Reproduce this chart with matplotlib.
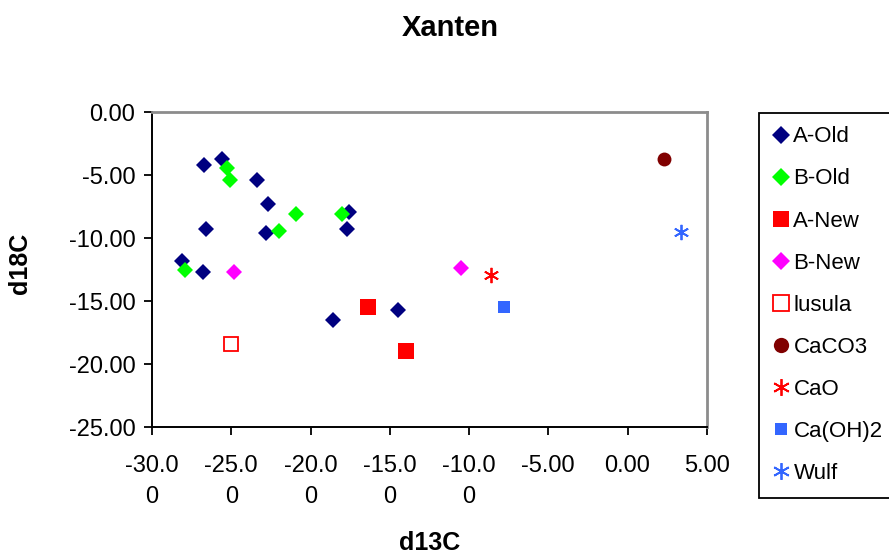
import numpy as np
import matplotlib
matplotlib.use("Agg")
import matplotlib.pyplot as plt

plt.rcParams['font.family'] = ['Liberation Sans', 'DejaVu Sans']

# Data (d13C, d18C)
a_old_x = [-26.7, -25.6, -23.4, -22.7, -26.6, -22.8, -17.6, -17.7, -28.1, -26.8, -18.6, -14.5]
a_old_y = [-4.2, -3.7, -5.4, -7.3, -9.3, -9.6, -7.9, -9.3, -11.8, -12.7, -16.5, -15.7]
b_old_x = [-25.3, -25.1, -20.9, -22.0, -18.0, -27.9]
b_old_y = [-4.4, -5.4, -8.1, -9.4, -8.1, -12.5]
a_new_x = [-16.4, -14.0]
a_new_y = [-15.5, -19.0]
b_new_x = [-24.8, -10.5]
b_new_y = [-12.7, -12.4]
lusula_x = [-25.0]
lusula_y = [-18.4]
caco3_x = [2.3]
caco3_y = [-3.7]
cao_x = [-8.6]
cao_y = [-12.9]
caoh2_x = [-7.8]
caoh2_y = [-15.5]
wulf_x = [3.4]
wulf_y = [-9.5]

xticks = [-30, -25, -20, -15, -10, -5, 0, 5]
xticklabels = ['-30.0\n0', '-25.0\n0', '-20.0\n0', '-15.0\n0', '-10.0\n0', '-5.00', '0.00', '5.00']
yticks = [0, -5, -10, -15, -20, -25]

fig = plt.figure(figsize=(8.89, 5.56), dpi=100)
ax = fig.add_axes([0.171, 0.232, 0.624, 0.566])

star6 = (6, 2, 0)
ax.plot(a_old_x, a_old_y, 'D', color='#000080', ms=8, mew=0, label='A-Old')
ax.plot(b_old_x, b_old_y, 'D', color='#00FF00', ms=8, mew=0, label='B-Old')
ax.plot(a_new_x, a_new_y, 's', color='#FF0000', ms=11, mew=0, label='A-New')
ax.plot(b_new_x, b_new_y, 'D', color='#FF00FF', ms=8, mew=0, label='B-New')
ax.plot(lusula_x, lusula_y, 's', mfc='white', mec='#FF0000', ms=10.5, mew=1.3, label='lusula')
ax.plot(caco3_x, caco3_y, 'o', color='#800000', ms=10, mew=0, label='CaCO3')
ax.plot(cao_x, cao_y, marker=star6, ls='none', color='#FF0000', ms=11, mew=1.3, label='CaO')
ax.plot(caoh2_x, caoh2_y, 's', color='#3366FF', ms=8.5, mew=0, label='Ca(OH)2')
ax.plot(wulf_x, wulf_y, marker=star6, ls='none', color='#3366FF', ms=11, mew=1.3, label='Wulf')

ax.set_xlim(-30, 5)
ax.set_ylim(-25, 0)
ax.set_xticks(xticks)
ax.set_xticklabels(xticklabels, fontsize=17, linespacing=1.55)
ax.set_yticks(yticks)
ax.set_yticklabels(['%.2f' % v for v in yticks], fontsize=17)
ax.tick_params(direction='out', length=6, width=1.3, color='black')
ax.tick_params(axis='x', pad=14)
ax.tick_params(axis='y', pad=6)

for s in ['left', 'bottom']:
    ax.spines[s].set_color('black')
    ax.spines[s].set_linewidth(1.4)
for s in ['top', 'right']:
    ax.spines[s].set_color('#8c8c8c')
    ax.spines[s].set_linewidth(2)

fig.text(450 / 889, 1 - 28 / 556, 'Xanten', ha='center', va='center', fontsize=21, fontweight='bold')
ax.set_xlabel('d13C', fontsize=18, fontweight='bold')
ax.xaxis.set_label_coords(0.5, (427 - 543) / 314.7)
ax.xaxis.label.set_va('center')
ax.set_ylabel('d18C', fontsize=18, fontweight='bold')
ax.yaxis.set_label_coords((20 - 152) / 555, (427 - 263) / 314.7)
ax.yaxis.label.set_va('center')

leg = ax.legend(loc='upper left', bbox_to_anchor=(759 / 889, 1 - 113 / 556),
                bbox_transform=fig.transFigure, fontsize=16, frameon=True,
                fancybox=False, framealpha=1, edgecolor='black',
                handlelength=0.75, handletextpad=0.2, labelspacing=0.95,
                borderpad=0.6, borderaxespad=0, numpoints=1, markerscale=1.1)
leg.get_frame().set_linewidth(1.3)

fig.savefig('out.png', dpi=100)
